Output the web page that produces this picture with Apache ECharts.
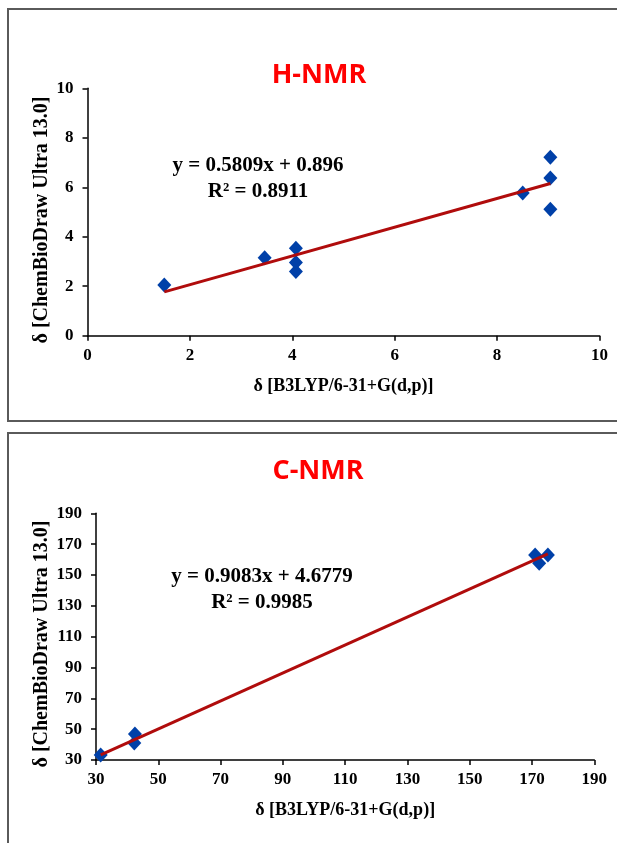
<!DOCTYPE html>
<html>
<head>
<meta charset="utf-8">
<script src="https://cdn.jsdelivr.net/npm/echarts@6/dist/echarts.min.js"></script>
<style>
html,body{margin:0;padding:0;background:#fff;}
#chart{width:617px;height:843px;}
</style>
</head>
<body>
<div id="chart"></div>
<script>
// H-NMR data
const hX = [1.5, 3.46, 4.07, 4.07, 4.07, 8.5, 9.04, 9.04, 9.04];
const hY = [2.05, 3.15, 3.53, 2.96, 2.59, 5.77, 7.21, 6.37, 5.11];
const hTrendX = [1.5, 9.04];
const hTrendY = [1.77, 6.15];
const hEquation = 'y = 0.5809x + 0.896';
const hR2 = 'R² = 0.8911';
const hXTicks = [0, 2, 4, 6, 8, 10];
const hYTicks = [0, 2, 4, 6, 8, 10];

// C-NMR data
const cX = [31.5, 42.5, 42.3, 171.0, 172.3, 175.1];
const cY = [33.2, 46.8, 41.0, 162.9, 157.6, 162.9];
const cTrendX = [31.5, 175.1];
const cTrendY = [33.3, 163.7];
const cEquation = 'y = 0.9083x + 4.6779';
const cR2 = 'R² = 0.9985';
const cXTicks = [30, 50, 70, 90, 110, 130, 150, 170, 190];
const cYTicks = [30, 50, 70, 90, 110, 130, 150, 170, 190];

const xTitle = 'δ [B3LYP/6-31+G(d,p)]';
const yTitle = 'δ [ChemBioDraw Ultra 13.0]';

const serif = "'Liberation Serif', 'Times New Roman', serif";
const markerColor = '#0040A8';
const trendColor = '#B00C0C';

function pairs(xs, ys){ return xs.map((x,i)=>[x, ys[i]]); }

function axisCommon(){
  return {
    type: 'value',
    axisLine: {show: true, onZero: false, lineStyle: {color: '#000', width: 1.5}},
    axisTick: {show: true, inside: false, length: 5, lineStyle: {color: '#000', width: 1.5}},
    splitLine: {show: false},
    axisLabel: {color: '#000', fontFamily: serif, fontWeight: 'bold', fontSize: 17},
    nameTextStyle: {color: '#000', fontFamily: serif, fontWeight: 'bold', fontSize: 18}
  };
}

const chart = echarts.init(document.getElementById('chart'), null, {renderer: 'canvas'});

const titleFont = "bold 27px 'Open Sans', sans-serif";
const eqFont = "bold 21px 'Liberation Serif', serif";
const yTitleFont = "bold 20px 'Liberation Serif', serif";

const option = {
  backgroundColor: '#fff',
  animation: false,
  grid: [
    {left: 87.5, top: 88.3, width: 512, height: 247.4, containLabel: false},
    {left: 96, top: 513.3, width: 498.3, height: 246.7, containLabel: false}
  ],
  xAxis: [
    Object.assign(axisCommon(), {gridIndex: 0, min: hXTicks[0], max: hXTicks[hXTicks.length-1], interval: 2,
      name: xTitle, nameLocation: 'middle', nameGap: 42,
      axisLabel: Object.assign(axisCommon().axisLabel, {margin: 11})}),
    Object.assign(axisCommon(), {gridIndex: 1, min: cXTicks[0], max: cXTicks[cXTicks.length-1], interval: 20,
      name: xTitle, nameLocation: 'middle', nameGap: 41,
      axisLabel: Object.assign(axisCommon().axisLabel, {margin: 11})})
  ],
  yAxis: [
    Object.assign(axisCommon(), {gridIndex: 0, min: hYTicks[0], max: hYTicks[hYTicks.length-1], interval: 2,
      axisLabel: Object.assign(axisCommon().axisLabel, {margin: 14})}),
    Object.assign(axisCommon(), {gridIndex: 1, min: cYTicks[0], max: cYTicks[cYTicks.length-1], interval: 20,
      axisLabel: Object.assign(axisCommon().axisLabel, {margin: 14})})
  ],
  series: [
    {type: 'line', xAxisIndex: 0, yAxisIndex: 0, data: pairs(hTrendX, hTrendY), showSymbol: false,
     lineStyle: {color: trendColor, width: 3}, z: 3},
    {type: 'scatter', xAxisIndex: 0, yAxisIndex: 0, data: pairs(hX, hY), symbol: 'diamond', symbolSize: [14, 15],
     itemStyle: {color: markerColor, opacity: 1}, z: 2},
    {type: 'line', xAxisIndex: 1, yAxisIndex: 1, data: pairs(cTrendX, cTrendY), showSymbol: false,
     lineStyle: {color: trendColor, width: 3}, z: 3},
    {type: 'scatter', xAxisIndex: 1, yAxisIndex: 1, data: pairs(cX, cY), symbol: 'diamond', symbolSize: [14, 15],
     itemStyle: {color: markerColor, opacity: 1}, z: 2}
  ],
  graphic: [
    {type: 'rect', shape: {x: 8, y: 9, width: 640, height: 412}, style: {fill: 'none', stroke: '#5a5a5a', lineWidth: 2}, silent: true},
    {type: 'rect', shape: {x: 8, y: 433, width: 640, height: 440}, style: {fill: 'none', stroke: '#5a5a5a', lineWidth: 2}, silent: true},
    {type: 'text', x: 319, y: 75, style: {text: 'H-NMR', fill: '#FF0000', font: titleFont, textAlign: 'center', textVerticalAlign: 'middle'}},
    {type: 'text', x: 318, y: 471, style: {text: 'C-NMR', fill: '#FF0000', font: titleFont, textAlign: 'center', textVerticalAlign: 'middle'}},
    {type: 'text', x: 41.5, y: 220, rotation: Math.PI / 2, style: {text: yTitle, fill: '#000', font: yTitleFont, textAlign: 'center', textVerticalAlign: 'middle'}},
    {type: 'text', x: 41.5, y: 644, rotation: Math.PI / 2, style: {text: yTitle, fill: '#000', font: yTitleFont, textAlign: 'center', textVerticalAlign: 'middle'}},
    {type: 'text', x: 258, y: 166, style: {text: hEquation, fill: '#000', font: eqFont, textAlign: 'center', textVerticalAlign: 'middle'}},
    {type: 'text', x: 258, y: 192, style: {text: hR2, fill: '#000', font: eqFont, textAlign: 'center', textVerticalAlign: 'middle'}},
    {type: 'text', x: 262, y: 577, style: {text: cEquation, fill: '#000', font: eqFont, textAlign: 'center', textVerticalAlign: 'middle'}},
    {type: 'text', x: 262, y: 603, style: {text: cR2, fill: '#000', font: eqFont, textAlign: 'center', textVerticalAlign: 'middle'}}
  ]
};
chart.setOption(option);
</script>
</body>
</html>
